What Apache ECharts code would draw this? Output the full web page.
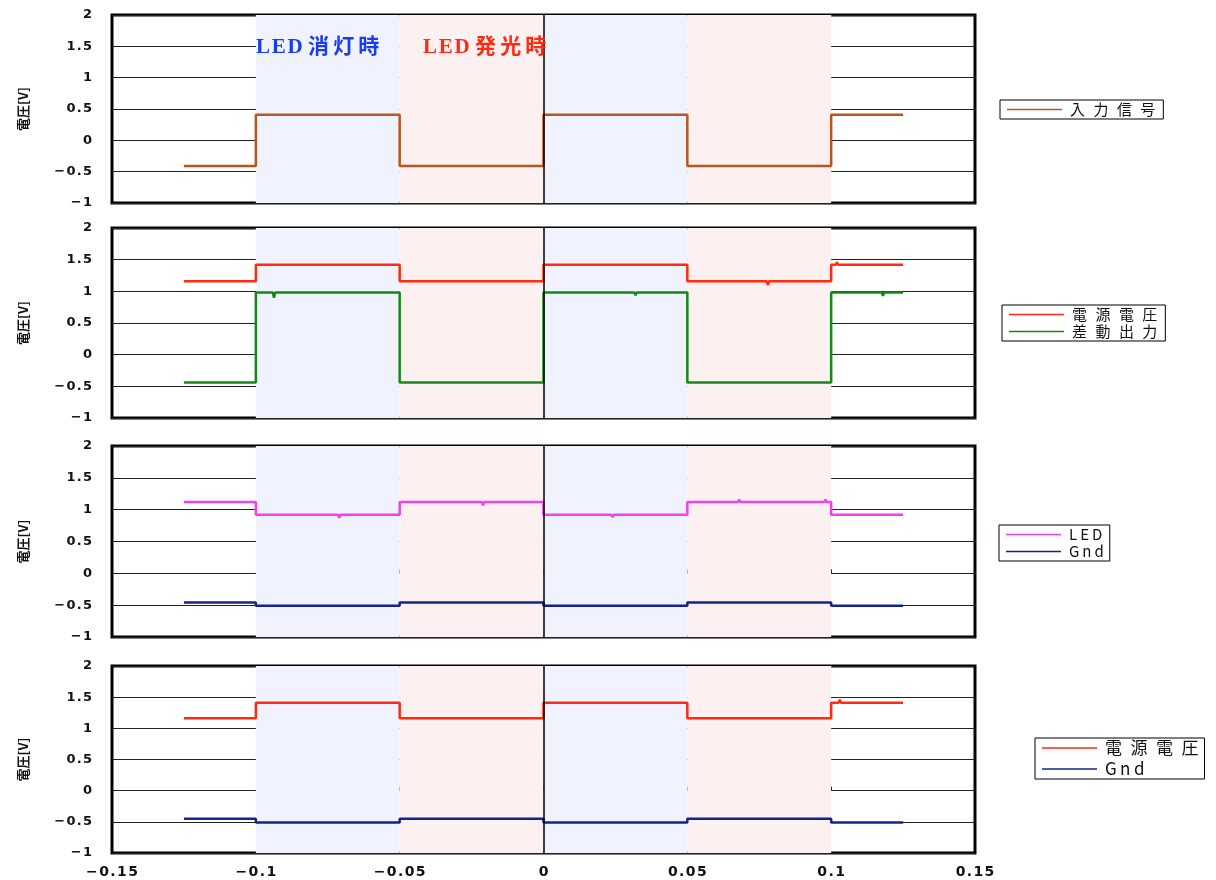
<!DOCTYPE html>
<html>
<head>
<meta charset="utf-8">
<script src="https://cdn.jsdelivr.net/npm/echarts@6/dist/echarts.min.js"></script>
<style>
  html, body { margin: 0; padding: 0; background: #fff; }
  #chart { width: 1216px; height: 880px; }
</style>
</head>
<body>
<div id="chart"></div>
<script>
// Time edges [s] where the drive signal toggles
const xEdges = [-0.125, -0.1, -0.05, 0, 0.05, 0.1, 0.125];

// Segment levels [V] between consecutive edges
const inputLevels   = [-0.41, 0.41, -0.41, 0.41, -0.41, 0.41];
const supplyLevels2 = [1.16, 1.42, 1.16, 1.42, 1.16, 1.42];
const diffLevels    = [-0.44, 0.98, -0.44, 0.98, -0.44, 0.98];
const ledLevels     = [1.12, 0.92, 1.12, 0.92, 1.12, 0.92];
const gndLevels3    = [-0.46, -0.51, -0.46, -0.51, -0.46, -0.51];
const supplyLevels4 = [1.16, 1.41, 1.16, 1.41, 1.16, 1.41];
const gndLevels4    = [-0.45, -0.51, -0.45, -0.51, -0.45, -0.51];

// Isolated glitches [time, voltage]
const inputGlitches   = [[-0.079, 0.38], [-0.012, -0.44], [0.011, 0.38], [0.087, -0.44], [0.114, 0.38]];
const supplyGlitches2 = [[-0.085, 1.39], [0.078, 1.10], [0.102, 1.46]];
const diffGlitches    = [[-0.1185, -0.41], [-0.0937, 0.90], [-0.063, 0.95], [0.032, 0.94], [0.07, -0.41], [0.118, 0.93]];
const ledGlitches     = [[-0.071, 0.87], [-0.021, 1.07], [0.024, 0.88], [0.068, 1.16], [0.098, 1.16]];
const gndGlitches3    = [[-0.115, -0.43], [-0.045, -0.43], [0.08, -0.43]];
const supplyGlitches4 = [[0.09, 1.13], [0.103, 1.46]];
const gndGlitches4    = [[0.01, -0.49]];

// Tick labels
const xTicks = [-0.15, -0.1, -0.05, 0, 0.05, 0.1, 0.15];
const yTicks = [-1, -0.5, 0, 0.5, 1, 1.5, 2];

// Shaded intervals: LED off (blue) and LED on (red)
const offSpans = [[-0.1, -0.05], [0, 0.05]];
const onSpans  = [[-0.05, 0], [0.05, 0.1]];

function stepTrace(levels, glitches) {
  const pts = [];
  const w = 0.0004;
  for (let i = 0; i < levels.length; i++) {
    const a = xEdges[i], b = xEdges[i + 1], v = levels[i];
    const seg = [[a, v]];
    glitches.filter(g => g[0] > a && g[0] < b).sort((p, q) => p[0] - q[0])
      .forEach(g => { seg.push([g[0] - w, v], [g[0], g[1]], [g[0] + w, v]); });
    seg.push([b, v]);
    pts.push(...seg);
  }
  return pts;
}

// Wide, loosely tracked label text
const spaced = (s, gap) => Array.from(String(s)).join(gap);
const isAscii = s => /^[\x00-\x7f]+$/.test(s);
const looseName = s => isAscii(s) ? spaced(s, '\u2009') : spaced(s, '\u2002\u200a');
const looseNameLarge = s => isAscii(s) ? spaced(s, '\u2009') : spaced(s, '\u2002');
const minus = v => String(v).replace('-', '\u2212');
const tickFont = { fontFamily: 'DejaVu Sans', fontSize: 13, fontWeight: 'bold', color: '#111' };
const gridBoxes = [
  { top: 15,  height: 188 },
  { top: 228, height: 190 },
  { top: 446, height: 191 },
  { top: 666, height: 187 }
];

const grids = gridBoxes.map(g => ({
  left: 112, width: 863, top: g.top, height: g.height,
  show: true, borderColor: '#000', borderWidth: 3, backgroundColor: 'transparent'
}));

const xAxes = gridBoxes.map((g, i) => ({
  type: 'value', gridIndex: i, min: -0.15, max: 0.15, interval: 0.05,
  axisLine: { show: false },
  axisTick: { show: true, inside: true, length: 4, lineStyle: { color: '#000' } },
  splitLine: { show: false },
  axisLabel: i === 3
    ? { ...tickFont, fontSize: 14, margin: 12, formatter: v => spaced(minus(Math.round(v * 100) / 100), '\u200a') }
    : { show: false }
}));

const yAxes = gridBoxes.map((g, i) => ({
  type: 'value', gridIndex: i, min: -1, max: 2, interval: 0.5,
  name: '電圧[V]', nameLocation: 'middle', nameGap: 82, nameRotate: 90,
  nameTextStyle: { fontFamily: 'Noto Sans CJK JP', fontSize: 13, fontWeight: 'bold', color: '#111' },
  axisLine: { show: false },
  axisTick: { show: false },
  splitLine: { show: true, lineStyle: { color: '#222', width: 1 } },
  axisLabel: { ...tickFont, margin: 20, formatter: v => spaced(minus(v), '\u200a') }
}));

function shading() {
  return {
    silent: true,
    data: offSpans.map(s => [{ xAxis: s[0], itemStyle: { color: '#f0f3fd' } }, { xAxis: s[1] }])
      .concat(onSpans.map(s => [{ xAxis: s[0], itemStyle: { color: '#fdf0f0' } }, { xAxis: s[1] }]))
  };
}
const zeroLine = {
  silent: true, symbol: 'none', label: { show: false },
  lineStyle: { color: '#000', width: 1.5, type: 'solid' },
  data: [{ xAxis: 0 }]
};

function trace(name, idx, levels, glitches, color, withMarks) {
  const s = {
    name, type: 'line', xAxisIndex: idx, yAxisIndex: idx,
    data: stepTrace(levels, glitches), showSymbol: false, symbol: 'none',
    lineStyle: { color, width: 2.5 }, itemStyle: { color }, animation: false, z: 3
  };
  if (withMarks) { s.markArea = shading(); s.markLine = zeroLine; }
  return s;
}

const series = [
  trace('入力信号', 0, inputLevels, inputGlitches, '#b9561c', true),
  trace('電源電圧', 1, supplyLevels2, supplyGlitches2, '#ff2a10', true),
  trace('差動出力', 1, diffLevels, diffGlitches, '#128a16', false),
  trace('LED', 2, ledLevels, ledGlitches, '#f040f0', true),
  trace('Gnd', 2, gndLevels3, gndGlitches3, '#15238f', false),
  trace('電源電圧', 3, supplyLevels4, supplyGlitches4, '#ff2a10', true),
  trace('Gnd', 3, gndLevels4, gndGlitches4, '#15238f', false)
];

const legendText = { fontFamily: 'Noto Sans CJK JP', fontSize: 15, lineHeight: 14, color: '#111', padding: [0, 0, 0, 3] };
const legendBase = {
  orient: 'vertical', icon: 'rect', itemWidth: 55, itemHeight: 1.5, itemGap: 2,
  borderColor: '#000', borderWidth: 1, borderRadius: 0, padding: [2, 8, 2, 7],
  selectedMode: false,
  formatter: looseName,
  textStyle: legendText
};

const option = {
  animation: false,
  backgroundColor: '#fff',
  grid: grids,
  xAxis: xAxes,
  yAxis: yAxes,
  legend: [
    { ...legendBase, left: 1000, top: 100, data: ['入力信号'] },
    { ...legendBase, left: 1002, top: 305, data: ['電源電圧', '差動出力'] },
    { ...legendBase, left: 999, top: 525, padding: [2, 6, 2, 7], data: ['LED', 'Gnd'] },
    { ...legendBase, left: 1035, top: 738, itemGap: 3, padding: [1, 6, 1, 7], formatter: looseNameLarge,
      data: ['電源電圧', 'Gnd'], textStyle: { ...legendText, fontSize: 17, lineHeight: 18 } }
  ],
  graphic: [
    { type: 'text', left: 256, top: 37, z: 10,
      style: { text: spaced('LED', '\u200a') + ' ' + spaced('消灯時', '\u2009'), fill: '#1a3cf0', font: 'bold 21px "Liberation Serif", "Noto Sans CJK JP"' } },
    { type: 'text', left: 423, top: 37, z: 10,
      style: { text: spaced('LED', '\u200a') + ' ' + spaced('発光時', '\u2009'), fill: '#ff2a10', font: 'bold 21px "Liberation Serif", "Noto Sans CJK JP"' } }
  ],
  series
};

echarts.init(document.getElementById('chart'), null, { renderer: 'canvas' }).setOption(option);
</script>
</body>
</html>
